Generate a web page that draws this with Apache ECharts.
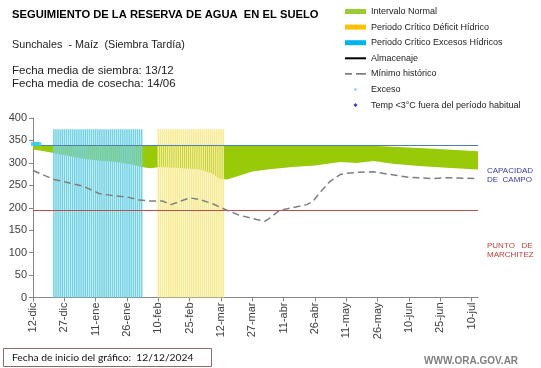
<!DOCTYPE html>
<html><head><meta charset="utf-8">
<script src="https://cdn.jsdelivr.net/npm/echarts@6/dist/echarts.min.js"></script>
<style>html,body{margin:0;padding:0;background:#fff}#c{width:541px;height:368px}</style>
</head><body><div id="c"></div>
<script>
// x values are days since 12/12/2024
const tickLabels = ['12-dic','27-dic','11-ene','26-ene','10-feb','25-feb','12-mar','27-mar','11-abr','26-abr','11-may','26-may','10-jun','25-jun','10-jul'];
const bandDays = [0,4,10,24,32,40,48,52,56,61,68,75,80,86,89,93,99,105,112,118,124,135,147,155,163,172,185,198,213];
const bandLow  = [330,327,322,309,305,302,296,291,288,291,289,287,285,276,265,263,272,281,285,288,291,294,302,300,304,298,293,289,285];
const bandHigh = [340,340,340,340,340,340,340,340,340,340,340,340,340,340,340,340,340,340,340,340,340,340,339,338,338,336,333,330,326];
const minDays = [0,10,16,24,32,40,45,51,56,62,66,75,80,86,92,99,107,111,113,118,124,131,134,137,142,147,150,156,163,171,180,191,199,213];
const minHist = [283,263,257,248,231,226,224,217,215,215,207,222,218,209,196,183,174,170,176,194,200,207,214,232,258,274,277,279,280,274,268,265,267,265];
const excesoDays = [0,1,2,3];
const excesoVals = [342,342,342,342];
const excesosHidricosDays = [10,11,12,13,14,15,16,17,18,19,20,21,22,23,24,25,26,27,28,29,30,31,32,33,34,35,36,37,38,39,40,41,42,43,44,45,46,47,48,49,50,51,52];
const deficitHidricoDays = [60,61,62,63,64,65,66,67,68,69,70,71,72,73,74,75,76,77,78,79,80,81,82,83,84,85,86,87,88,89,90,91];
const periodoTop = 375;
const capacidadCampo = 340;
const puntoMarchitez = 194;

const F = '"Liberation Sans", Arial, sans-serif';
const chart = echarts.init(document.getElementById('c'), null, {renderer:'canvas'});
const pair = (xs, ys) => xs.map((x,i) => [x, ys[i]]);

function stripeRenderer(color) {
  return function (params, api) {
    const d = api.value(0), v = api.value(1);
    const p0 = api.coord([d, 0]), p1 = api.coord([d, v]);
    const w = api.size([1, 0])[0] * 0.75;
    return {type: 'rect', shape: {x: p0[0] - w / 2, y: p1[1], width: w, height: p0[1] - p1[1]},
            style: {fill: color, blend: 'multiply'}};
  };
}

chart.setOption({
  animation: false,
  backgroundColor: '#fff',
  grid: {left: 33, right: 63, top: 118, bottom: 70.5, containLabel: false, outerBoundsMode: 'none'},
  legend: {
    orient: 'vertical', left: 340, top: 1, itemWidth: 21, itemHeight: 5, itemGap: 4.6,
    textStyle: {fontFamily: F, fontSize: 9, color: '#222', lineHeight: 11},
    selectedMode: false,
    data: [
      {name: 'Intervalo Normal', icon: 'rect', itemStyle: {color: '#99cc33', opacity: 1}},
      {name: 'Periodo Crítico Déficit Hídrico', icon: 'rect', itemStyle: {color: '#ffc000', opacity: 1}},
      {name: 'Periodo Crítico Excesos Hídricos', icon: 'rect', itemStyle: {color: '#00b4ec', opacity: 1}},
      {name: 'Almacenaje', icon: 'path://M0,0H21V2H0Z', itemStyle: {color: '#000'}},
      {name: 'Mínimo histórico', icon: 'path://M0,0H7V1.6H0ZM11,0H21V1.6H11Z', itemStyle: {color: '#808080'}},
      {name: 'Exceso', icon: 'path://M-2,-2M0,0H3V3H0ZM5,5', itemStyle: {color: '#33c8e8'}},
      {name: 'Temp <3°C fuera del período habitual', icon: 'path://M0,-0.5M3,0L6,3L3,6L0,3ZM0,6.5', itemStyle: {color: '#1a1aa0'}}
    ]
  },
  xAxis: {
    type: 'value', min: 0, max: 213, interval: 15,
    axisLine: {lineStyle: {color: '#868686', width: 1}},
    axisTick: {show: true, length: 4, lineStyle: {color: '#868686'}},
    splitLine: {show: false},
    axisLabel: {rotate: 90, fontFamily: F, fontSize: 11, color: '#404040', margin: 5, showMaxLabel: false,
      formatter: v => (v % 15 === 0 ? tickLabels[v/15] : '')}
  },
  yAxis: {
    type: 'value', min: 0, max: 400, interval: 50,
    name: 'Milímetros', nameLocation: 'middle', nameGap: 27, nameRotate: 90,
    nameTextStyle: {fontFamily: F, fontSize: 7, color: '#404040'},
    axisLine: {show: true, lineStyle: {color: '#868686', width: 1}},
    axisTick: {show: true, length: 4, lineStyle: {color: '#868686'}},
    splitLine: {show: false},
    axisLabel: {fontFamily: F, fontSize: 11, color: '#404040', margin: 6}
  },
  series: [
    {name: 'Intervalo Normal', type: 'custom', z: 2, silent: true,
     itemStyle: {color: '#99cc33'},
     data: [0],
     renderItem: function (params, api) {
       const top = bandDays.map((d,i) => api.coord([d, bandHigh[i]]));
       const bot = bandDays.map((d,i) => api.coord([d, bandLow[i]])).reverse();
       return {type: 'polygon', shape: {points: top.concat(bot)}, style: {fill: '#98ca08'}};
     }},
    {name: 'Periodo Crítico Déficit Hídrico', type: 'custom', z: 3, silent: true,
     itemStyle: {color: '#ffc000'},
     data: deficitHidricoDays.map(d => [d, periodoTop]),
     renderItem: stripeRenderer('#f7ea90')},
    {name: 'Periodo Crítico Excesos Hídricos', type: 'custom', z: 3, silent: true,
     itemStyle: {color: '#00b4ec'},
     data: excesosHidricosDays.map(d => [d, periodoTop]),
     renderItem: stripeRenderer('#72d2e4')},
    {name: 'Almacenaje', type: 'line', data: [], symbol: 'none', lineStyle: {color: '#000', width: 2}, itemStyle: {color: '#000'},
     markLine: {silent: true, symbol: 'none', label: {show: false},
       data: [{yAxis: capacidadCampo, lineStyle: {color: '#4f7db4', width: 1, type: 'solid'}},
              {yAxis: puntoMarchitez, lineStyle: {color: '#c0504d', width: 1, type: 'solid'}}]}, z: 4},
    {name: 'Mínimo histórico', type: 'line', data: pair(minDays, minHist), symbol: 'none',
     lineStyle: {color: '#7f7f7f', width: 1.5, type: [7, 4]}, itemStyle: {color: '#7f7f7f'}, z: 5},
    {name: 'Exceso', type: 'scatter', data: pair(excesoDays, excesoVals), symbol: 'rect', symbolSize: [4, 4],
     itemStyle: {color: '#33c8e8'}, z: 6},
    {name: 'Temp <3°C fuera del período habitual', type: 'scatter', data: [], symbol: 'diamond', symbolSize: 6,
     itemStyle: {color: '#1a1aa0'}}
  ],
  graphic: [
    {type: 'text', x: 12, y: 15, style: {text: 'SEGUIMIENTO DE LA RESERVA DE AGUA  EN EL SUELO', font: 'bold 11.2px ' + F, fill: '#000', verticalAlign: 'middle'}},
    {type: 'text', x: 12, y: 45, style: {text: 'Sunchales  - Maíz  (Siembra Tardía)', font: '10.8px ' + F, fill: '#222', verticalAlign: 'middle'}},
    {type: 'text', x: 12, y: 71, style: {text: 'Fecha media de siembra: 13/12', font: '11.5px ' + F, fill: '#222', verticalAlign: 'middle'}},
    {type: 'text', x: 12, y: 84, style: {text: 'Fecha media de cosecha: 14/06', font: '11.5px ' + F, fill: '#222', verticalAlign: 'middle'}},
    {type: 'text', x: 487, y: 175, style: {text: 'CAPACIDAD\nDE  CAMPO', font: '8px ' + F, fill: '#3a3aa8', verticalAlign: 'middle', lineHeight: 9}},
    {type: 'text', x: 487, y: 250, style: {text: 'PUNTO   DE\nMARCHITEZ', font: '8px ' + F, fill: '#c0403c', verticalAlign: 'middle', lineHeight: 9}},
    {type: 'rect', shape: {x: 3.5, y: 348.5, width: 208, height: 18}, style: {fill: '#fff', stroke: '#8c6c6c', lineWidth: 1}},
    {type: 'text', x: 12, y: 357.5, style: {text: 'Fecha de inicio del gráfico:  12/12/2024', font: '10.3px Lato, ' + F, fill: '#111', verticalAlign: 'middle'}},
    {type: 'text', x: 424, y: 361, style: {text: 'WWW.ORA.GOV.AR', font: 'bold 10px ' + F, fill: '#7f7f7f', verticalAlign: 'middle'}}
  ]
});
</script></body></html>
